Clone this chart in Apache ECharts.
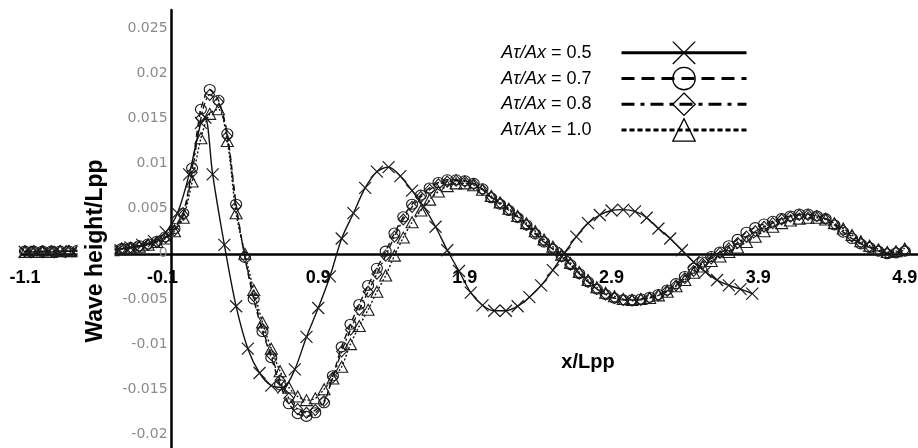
<!DOCTYPE html>
<html>
<head>
<meta charset="utf-8">
<script src="https://cdn.jsdelivr.net/npm/echarts@6/dist/echarts.min.js"></script>
<style>
  html, body { margin: 0; padding: 0; background: #fff; }
  #chart { width: 918px; height: 448px; }
</style>
</head>
<body>
<div id="chart"></div>
<script>
// Longitudinal wave cuts: wave height / Lpp against x / Lpp

// Sample positions shared by the 0.7, 0.8 and 1.0 cases
const xGrid = [
  -1.10, -1.04, -0.98, -0.92, -0.86, -0.80, -0.74, -0.68, -0.62, -0.56,
  -0.50, -0.44, -0.38, -0.32, -0.26, -0.20, -0.14, -0.08, -0.02, 0.04,
  0.10, 0.16, 0.22, 0.28, 0.34, 0.40, 0.46, 0.52, 0.58, 0.64,
  0.70, 0.76, 0.82, 0.88, 0.94, 1.00, 1.06, 1.12, 1.18, 1.24,
  1.30, 1.36, 1.42, 1.48, 1.54, 1.60, 1.66, 1.72, 1.78, 1.84,
  1.90, 1.96, 2.02, 2.08, 2.14, 2.20, 2.26, 2.32, 2.38, 2.44,
  2.50, 2.56, 2.62, 2.68, 2.74, 2.80, 2.86, 2.92, 2.98, 3.04,
  3.10, 3.16, 3.22, 3.28, 3.34, 3.40, 3.46, 3.52, 3.58, 3.64,
  3.70, 3.76, 3.82, 3.88, 3.94, 4.00, 4.06, 4.12, 4.18, 4.24,
  4.30, 4.36, 4.42, 4.48, 4.54, 4.60, 4.66, 4.72, 4.78, 4.84,
  4.90
];

// Aτ/Ax = 0.7
const wave07 = [
  0.0003, 0.0003, 0.0003, 0.0003, 0.0003, 0.0003, 0.0004, 0.0004, 0.0004, 0.0005,
  0.0005, 0.0006, 0.0007, 0.0009, 0.0011, 0.0014, 0.0019, 0.0028, 0.0045, 0.0095,
  0.0160, 0.0182, 0.0170, 0.0133, 0.0055, -0.0004, -0.0050, -0.0086, -0.0115, -0.0145,
  -0.0166, -0.0177, -0.0180, -0.0176, -0.0165, -0.0135, -0.0103, -0.0078, -0.0056, -0.0035,
  -0.0016, 0.0003, 0.0023, 0.0041, 0.0055, 0.0065, 0.0073, 0.0079, 0.0082, 0.0082,
  0.0081, 0.0078, 0.0072, 0.0062, 0.0055, 0.0048, 0.0040, 0.0032, 0.0022, 0.0013,
  0.0005, -0.0003, -0.0012, -0.0022, -0.0031, -0.0039, -0.0045, -0.0049, -0.0051, -0.0051,
  -0.0050, -0.0048, -0.0045, -0.0040, -0.0033, -0.0025, -0.0016, -0.0009, -0.0003, 0.0002,
  0.0009, 0.0016, 0.0024, 0.0029, 0.0033, 0.0036, 0.0039, 0.0042, 0.0044, 0.0044,
  0.0042, 0.0039, 0.0032, 0.0024, 0.0017, 0.0011, 0.0007, 0.0003, 0.0000, 0.0001,
  0.0003
];

// Aτ/Ax = 0.8
const wave08 = [
  0.0003, 0.0003, 0.0003, 0.0003, 0.0003, 0.0003, 0.0003, 0.0004, 0.0004, 0.0004,
  0.0005, 0.0006, 0.0007, 0.0008, 0.0010, 0.0013, 0.0018, 0.0026, 0.0043, 0.0090,
  0.0150, 0.0176, 0.0168, 0.0130, 0.0052, -0.0003, -0.0047, -0.0083, -0.0112, -0.0140,
  -0.0160, -0.0172, -0.0176, -0.0173, -0.0163, -0.0137, -0.0108, -0.0084, -0.0062, -0.0042,
  -0.0022, -0.0002, 0.0019, 0.0038, 0.0052, 0.0063, 0.0071, 0.0077, 0.0080, 0.0081,
  0.0080, 0.0077, 0.0071, 0.0063, 0.0056, 0.0049, 0.0041, 0.0032, 0.0023, 0.0014,
  0.0006, -0.0003, -0.0012, -0.0022, -0.0031, -0.0039, -0.0045, -0.0049, -0.0051, -0.0052,
  -0.0051, -0.0049, -0.0046, -0.0041, -0.0035, -0.0027, -0.0019, -0.0011, -0.0005, 0.0001,
  0.0006, 0.0012, 0.0019, 0.0025, 0.0030, 0.0034, 0.0038, 0.0041, 0.0043, 0.0043,
  0.0042, 0.0039, 0.0033, 0.0026, 0.0019, 0.0012, 0.0008, 0.0004, 0.0001, 0.0002,
  0.0004
];

// Aτ/Ax = 1.0
const wave10 = [
  0.0002, 0.0002, 0.0002, 0.0002, 0.0003, 0.0003, 0.0003, 0.0003, 0.0003, 0.0004,
  0.0004, 0.0005, 0.0006, 0.0008, 0.0010, 0.0013, 0.0017, 0.0025, 0.0040, 0.0080,
  0.0128, 0.0155, 0.0160, 0.0125, 0.0045, 0.0000, -0.0040, -0.0076, -0.0105, -0.0130,
  -0.0148, -0.0158, -0.0162, -0.0160, -0.0150, -0.0138, -0.0125, -0.0100, -0.0080, -0.0062,
  -0.0042, -0.0024, -0.0002, 0.0018, 0.0035, 0.0048, 0.0060, 0.0069, 0.0075, 0.0078,
  0.0078, 0.0076, 0.0071, 0.0064, 0.0057, 0.0050, 0.0042, 0.0034, 0.0025, 0.0016,
  0.0008, -0.0001, -0.0010, -0.0020, -0.0029, -0.0037, -0.0043, -0.0047, -0.0050, -0.0051,
  -0.0050, -0.0049, -0.0046, -0.0042, -0.0036, -0.0029, -0.0021, -0.0014, -0.0008, -0.0003,
  0.0002, 0.0007, 0.0013, 0.0019, 0.0025, 0.0030, 0.0034, 0.0037, 0.0039, 0.0040,
  0.0040, 0.0038, 0.0034, 0.0028, 0.0021, 0.0014, 0.0009, 0.0005, 0.0002, 0.0003,
  0.0006
];

// Aτ/Ax = 0.5 has its own, coarser sampling
const x05 = [
  -1.10, -1.02, -0.94, -0.86, -0.78, -0.70, -0.62, -0.54, -0.46, -0.38,
  -0.30, -0.22, -0.14, -0.06, 0.02, 0.10, 0.13, 0.18, 0.26, 0.34,
  0.42, 0.50, 0.58, 0.66, 0.74, 0.82, 0.90, 0.98, 1.06, 1.14,
  1.22, 1.30, 1.38, 1.46, 1.54, 1.62, 1.70, 1.78, 1.86, 1.94,
  2.02, 2.10, 2.18, 2.26, 2.34, 2.42, 2.50, 2.58, 2.66, 2.74,
  2.82, 2.90, 2.98, 3.06, 3.14, 3.22, 3.30, 3.38, 3.46, 3.54,
  3.62, 3.70, 3.78, 3.86
];
const wave05 = [
  0.0002, 0.0002, 0.0002, 0.0002, 0.0003, 0.0003, 0.0004, 0.0004, 0.0005, 0.0007,
  0.0010, 0.0014, 0.0024, 0.0045, 0.0088, 0.0145, 0.0151, 0.0088, 0.0010, -0.0058,
  -0.0105, -0.0132, -0.0146, -0.0148, -0.0128, -0.0092, -0.0060, -0.0025, 0.0017, 0.0045,
  0.0073, 0.0091, 0.0096, 0.0086, 0.0070, 0.0052, 0.0030, 0.0004, -0.0019, -0.0043,
  -0.0057, -0.0063, -0.0063, -0.0058, -0.0048, -0.0035, -0.0018, 0.0001, 0.0019, 0.0034,
  0.0043, 0.0048, 0.0049, 0.0047, 0.0040, 0.0028, 0.0017, 0.0004, -0.0009, -0.0020,
  -0.0029, -0.0035, -0.0039, -0.0044
];

const seriesNames = ['Aτ/Ax = 0.5', 'Aτ/Ax = 0.7', 'Aτ/Ax = 0.8', 'Aτ/Ax = 1.0'];
const xTickValues = [-1.1, -0.1, 0.9, 1.9, 2.9, 3.9, 4.9];
const yTickValues = [-0.02, -0.015, -0.01, -0.005, 0, 0.005, 0.01, 0.015, 0.02, 0.025];

// Axis extents
const X_MIN = -1.12, X_MAX = 4.99;
const Y_MIN = -0.0215, Y_MAX = 0.027;
const X_AT_Y_AXIS = -0.1;     // the vertical axis crosses here

// Plot box
const W = 918, H = 448;
const GRID = { left: 22, right: 0, top: 10, bottom: 0 };
const plotW = W - GRID.left - GRID.right;
const plotH = H - GRID.top - GRID.bottom;

// Both axis lines cross inside the plot: shift them from the box edges
const yAxisShift = (X_AT_Y_AXIS - X_MIN) / (X_MAX - X_MIN) * plotW;
const xAxisShift = (0 - Y_MIN) / (Y_MAX - Y_MIN) * plotH;

function pairs(xs, ys) {
  return xs.map((x, i) => [x, ys[i]]);
}

const CROSS = 'path://M0,0L10,10M0,10L10,0';
const hollow = { color: 'rgba(0,0,0,0)', borderColor: '#1c1c1c', borderWidth: 1.1 };
const ARIAL = '"Liberation Sans", Arial, sans-serif';

function waveSeries(name, data, symbol, size, dash) {
  return {
    name: name,
    type: 'line',
    data: data,
    symbol: symbol,
    symbolSize: size,
    showAllSymbol: true,
    smooth: 0.3,
    itemStyle: hollow,
    lineStyle: { color: '#111', width: 1.4, type: dash },
    emphasis: { disabled: true },
    silent: true
  };
}

const xLabelFont = { color: '#000', fontFamily: ARIAL, fontWeight: 'bold', fontSize: 18 };

const chart = echarts.init(document.getElementById('chart'), null, { renderer: 'canvas' });

chart.setOption({
  animation: false,
  backgroundColor: '#fff',
  grid: Object.assign({ containLabel: false, outerBoundsMode: 'none' }, GRID),
  xAxis: {
    type: 'value',
    min: X_MIN,
    max: X_MAX,
    offset: -xAxisShift,
    axisLine: { onZero: false, lineStyle: { color: '#000', width: 2.5 } },
    axisTick: { show: false },
    splitLine: { show: false },
    axisLabel: Object.assign({
      customValues: xTickValues,
      margin: 15,
      // the label at the axis crossing sits to the left of the vertical axis
      formatter: v => (v === X_AT_Y_AXIS ? '{cross|' + v + '}' : String(v)),
      rich: { cross: Object.assign({ padding: [0, 18, 0, 0] }, xLabelFont) }
    }, xLabelFont)
  },
  yAxis: {
    type: 'value',
    min: Y_MIN,
    max: Y_MAX,
    offset: -yAxisShift,
    axisLine: { onZero: false, lineStyle: { color: '#000', width: 2.5 } },
    axisTick: { show: false },
    splitLine: { show: false },
    axisLabel: {
      customValues: yTickValues,
      margin: 4,
      color: '#8a8a8a',
      fontFamily: '"DejaVu Sans", sans-serif',
      fontSize: 14,
      formatter: v => String(v)
    }
  },
  legend: {
    orient: 'vertical',
    right: 165,
    top: 36,
    align: 'right',
    itemWidth: 125,
    itemHeight: 28,
    itemGap: 2,
    selectedMode: false,
    formatter: name => {
      const parts = name.split(' = ');
      return '{i|' + parts[0] + '} = ' + parts[1];
    },
    textStyle: {
      color: '#000',
      fontFamily: ARIAL,
      fontSize: 18,
      padding: [0, 25, 0, 0],
      rich: { i: { fontStyle: 'italic', fontFamily: ARIAL, fontSize: 18, color: '#000' } }
    },
    itemStyle: { color: 'rgba(0,0,0,0)', borderColor: '#000', borderWidth: 1.3 },
    lineStyle: { color: '#000', width: 3 },
    data: [
      { name: seriesNames[0], lineStyle: { type: 'solid' } },
      { name: seriesNames[1], lineStyle: { type: [13, 7] } },
      { name: seriesNames[2], lineStyle: { type: [13, 6, 4, 6] } },
      { name: seriesNames[3], lineStyle: { type: [5, 3] } }
    ]
  },
  graphic: [
    {
      type: 'text',
      x: 96,
      y: 251,
      rotation: Math.PI / 2,
      z: 100,
      style: {
        text: 'Wave height/Lpp',
        font: 'bold 23px ' + ARIAL,
        fill: '#000',
        align: 'center',
        verticalAlign: 'middle',
        backgroundColor: '#fff',
        padding: [0, 2, 14, 2]
      }
    },
    {
      type: 'text',
      x: 588,
      y: 362,
      z: 100,
      style: {
        text: 'x/Lpp',
        font: 'bold 20px ' + ARIAL,
        fill: '#000',
        align: 'center',
        verticalAlign: 'middle'
      }
    }
  ],
  series: [
    waveSeries(seriesNames[1], pairs(xGrid, wave07), 'circle', [11, 10], [6, 4]),
    waveSeries(seriesNames[2], pairs(xGrid, wave08), 'diamond', [10, 11], [6, 3, 2, 3]),
    waveSeries(seriesNames[3], pairs(xGrid, wave10), 'triangle', [12, 11], [2, 2]),
    Object.assign(waveSeries(seriesNames[0], pairs(x05, wave05), CROSS, 12, 'solid'),
      { itemStyle: { color: 'rgba(0,0,0,0)', borderColor: '#1c1c1c', borderWidth: 1.2 } })
  ]
});
</script>
</body>
</html>
